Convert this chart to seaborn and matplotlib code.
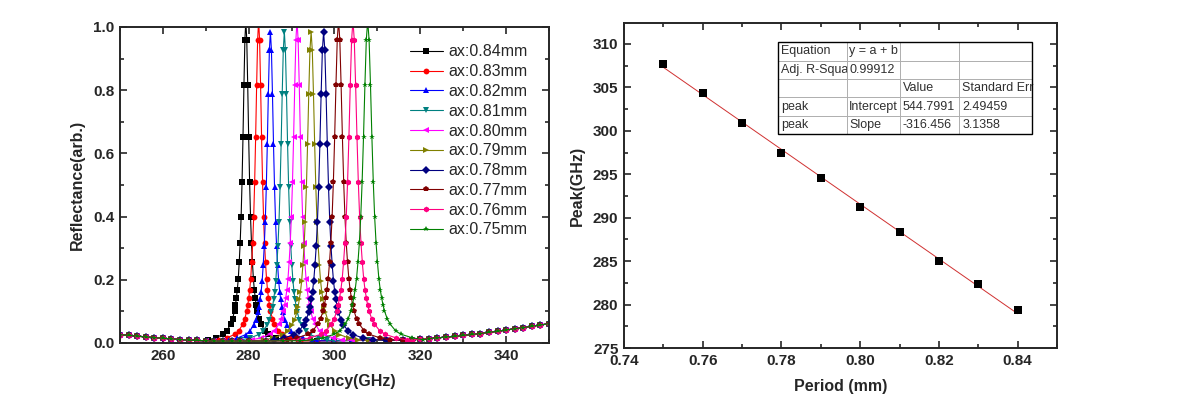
import numpy as np
import pandas as pd
import matplotlib
matplotlib.use("Agg")
import matplotlib.pyplot as plt
from matplotlib.patches import Rectangle
from matplotlib.ticker import MultipleLocator, FormatStrFormatter
import seaborn as sns

# period of each sample (mm) and the fitted resonance peak (GHz)
periods = [0.84, 0.83, 0.82, 0.81, 0.80, 0.79, 0.78, 0.77, 0.76, 0.75]
peak_ghz = [279.33, 282.31, 285.06, 288.31, 291.26, 294.55, 297.46, 300.94, 304.30, 307.74]
# half width at half maximum and top value of each resonance
hwhm_ghz = [0.88, 0.92, 0.96, 1.00, 1.05, 1.10, 1.15, 1.20, 1.25, 1.30]
peak_top = [1.02, 1.02, 0.985, 0.985, 1.02, 0.985, 0.985, 1.02, 1.02, 1.02]

labels = ["ax:%.2fmm" % p for p in periods]
colors = ["#000000", "#ff0000", "#0000ff", "#008080", "#ff00ff",
          "#808000", "#000080", "#800000", "#ff0080", "#008000"]
markers = ["s", "o", "^", "v", "<", ">", "D", "p", "h", "*"]

# resonance shape, offset in half widths vs. relative reflectance
shape_u = [-10, -8, -6, -5, -4, -3.5, -3, -2.75, -2.5, -2.25, -2, -1.75, -1.5, -1.25, -1, -0.75, -0.5, -0.25, 0,
           0.25, 0.5, 0.75, 1, 1.25, 1.5, 1.75, 2, 2.25, 2.5, 2.75, 3, 3.5, 4, 5, 6, 8, 10]
shape_r = [0.010, 0.016, 0.027, 0.038, 0.059, 0.075, 0.10, 0.117, 0.14, 0.165, 0.20, 0.25, 0.31, 0.39, 0.50, 0.64, 0.80, 0.94, 1.0,
           0.94, 0.80, 0.64, 0.50, 0.39, 0.31, 0.25, 0.20, 0.165, 0.14, 0.117, 0.10, 0.075, 0.059, 0.038, 0.027, 0.016, 0.010]

# broadband background away from the resonances
bg_freq = [250, 252, 254, 256, 258, 260, 262, 264, 266, 268, 270, 272, 274, 276, 278, 280,
           284, 288, 292, 296, 300, 304, 308, 312, 316, 318, 320, 322, 324, 326, 328, 330,
           332, 334, 336, 338, 340, 342, 344, 346, 348, 350]
bg_refl = [0.026, 0.024, 0.022, 0.019, 0.017, 0.015, 0.013, 0.011, 0.009, 0.008, 0.007, 0.006,
           0.006, 0.006, 0.006, 0.006, 0.006, 0.007, 0.007, 0.007, 0.007, 0.008, 0.008, 0.009,
           0.009, 0.010, 0.012, 0.014, 0.016, 0.019, 0.021, 0.024, 0.027, 0.030, 0.034, 0.037,
           0.041, 0.045, 0.049, 0.053, 0.057, 0.061]

table_rows = [["Equation", "y = a + b", "", ""],
              ["Adj. R-Squa", "0.99912", "", ""],
              ["", "", "Value", "Standard Err"],
              ["peak", "Intercept", "544.7991", "2.49459"],
              ["peak", "Slope", "-316.456", "3.1358"]]

rows = []
for i, lab in enumerate(labels):
    half = shape_u[-1] * hwhm_ghz[i]
    pts = [(f, r) for f, r in zip(bg_freq, bg_refl) if abs(f - peak_ghz[i]) > half]
    pts += [(peak_ghz[i] + u * hwhm_ghz[i], r * peak_top[i]) for u, r in zip(shape_u, shape_r)]
    pts.sort()
    for f, r in pts:
        rows.append({"freq": f, "refl": r, "label": lab})
spectra = pd.DataFrame(rows)

sns.set_style("ticks")
plt.rcParams["font.family"] = ["Liberation Sans", "DejaVu Sans"]

fig = plt.figure(figsize=(11.87, 4.09), dpi=100)
ax1 = fig.add_axes([0.1011, 0.1614, 0.3614, 0.7726])
ax2 = fig.add_axes([0.5257, 0.1491, 0.3648, 0.7946])

sns.lineplot(data=spectra, x="freq", y="refl", hue="label", style="label",
             hue_order=labels, style_order=labels, palette=dict(zip(labels, colors)),
             markers=dict(zip(labels, markers)), dashes=False, estimator=None, sort=False,
             linewidth=0.8, markersize=4.2, markeredgewidth=0, ax=ax1)
handles, labs = ax1.get_legend_handles_labels()
ax1.legend(handles, labs, loc="upper left", bbox_to_anchor=(0.675, 0.945), frameon=False,
           fontsize=11.5, handlelength=2.1, handletextpad=0.35, labelspacing=0.3,
           borderaxespad=0, borderpad=0)
ax1.set_xlim(250, 350)
ax1.set_ylim(0, 1)
ax1.xaxis.set_major_locator(MultipleLocator(20))
ax1.xaxis.set_minor_locator(MultipleLocator(10))
ax1.yaxis.set_major_locator(MultipleLocator(0.2))
ax1.yaxis.set_minor_locator(MultipleLocator(0.1))
ax1.set_xlabel("Frequency(GHz)", fontsize=11.5, fontweight="bold", labelpad=8)
ax1.set_ylabel("Reflectance(arb.)", fontsize=11.5, fontweight="bold", labelpad=6)

sns.regplot(x=periods, y=peak_ghz, ci=None, marker="s", color="black",
            scatter_kws={"s": 36, "zorder": 3, "linewidths": 0, "alpha": 1},
            line_kws={"color": "#d03030", "linewidth": 0.7}, ax=ax2)
ax2.set_xlim(0.74, 0.85)
ax2.set_ylim(275, 312.4)
ax2.xaxis.set_major_locator(MultipleLocator(0.02))
ax2.xaxis.set_minor_locator(MultipleLocator(0.01))
ax2.yaxis.set_major_locator(MultipleLocator(5))
ax2.yaxis.set_minor_locator(MultipleLocator(2.5))
ax2.xaxis.set_major_formatter(FormatStrFormatter("%.2f"))
ax2.set_xlabel("Period (mm)", fontsize=11.5, fontweight="bold", labelpad=8)
ax2.set_ylabel("Peak(GHz)", fontsize=11.5, fontweight="bold", labelpad=6)

for ax in (ax1, ax2):
    for sp in ax.spines.values():
        sp.set_visible(True)
        sp.set_linewidth(1.4)
    ax.tick_params(which="both", direction="in", top=True, right=True, width=1.2)
    ax.tick_params(which="major", length=5, labelsize=11, pad=4)
    ax.tick_params(which="minor", length=3)
    for t in ax.get_xticklabels() + ax.get_yticklabels():
        t.set_fontweight("bold")

# fit summary table
tb_box = [0.356, 0.658, 0.587, 0.283]
col_px = [69, 53, 59, 73]
tbl = ax2.table(cellText=table_rows, colWidths=[w / sum(col_px) * tb_box[2] for w in col_px],
                bbox=tb_box, cellLoc="left")
tbl.auto_set_font_size(False)
tbl.set_fontsize(9)
for (r, c), cell in tbl.get_celld().items():
    cell.set_edgecolor("#a8a8a8")
    cell.set_linewidth(0.6)
    cell.PAD = 0.04
    cell.get_text().set_color("#303030")
    cell.get_text().set_clip_path(cell)
    if r >= 3 and c == 3:
        cell._loc = "right"
ax2.add_patch(Rectangle((tb_box[0], tb_box[1]), tb_box[2], tb_box[3], transform=ax2.transAxes,
                        fill=False, edgecolor="black", linewidth=1.0, zorder=6))

fig.savefig("out.png", dpi=100)
